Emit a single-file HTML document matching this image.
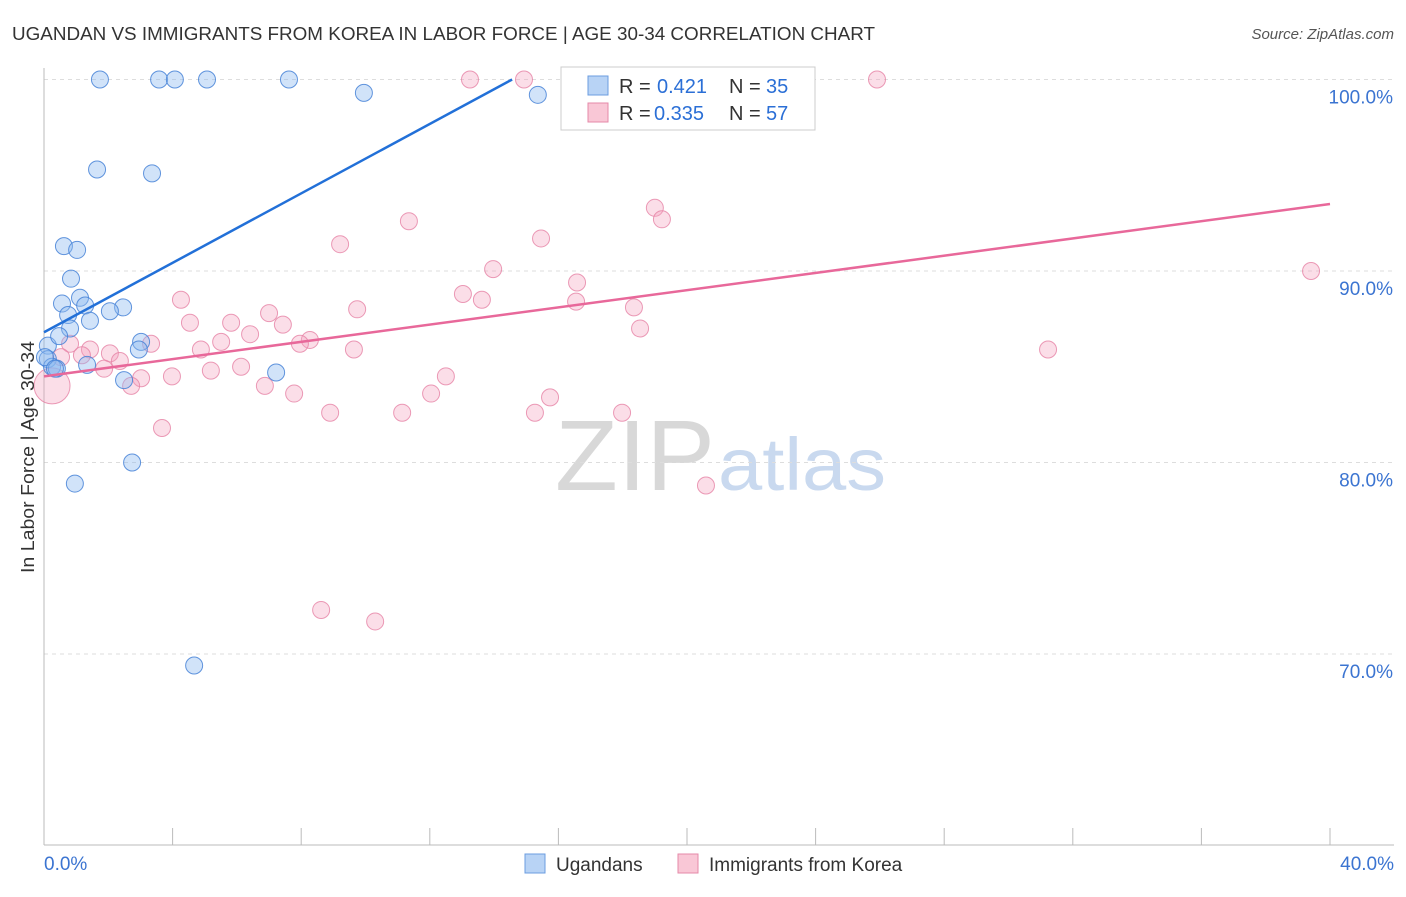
<!DOCTYPE html>
<html><head><meta charset="utf-8"><style>
body{margin:0;background:#fff;font-family:"Liberation Sans",sans-serif}
svg text{font-family:"Liberation Sans",sans-serif}
</style></head><body>
<svg id="c" width="1406" height="892" viewBox="0 0 1406 892">
<text x="12" y="40" font-size="18" fill="#333" textLength="863" lengthAdjust="spacingAndGlyphs">UGANDAN VS IMMIGRANTS FROM KOREA IN LABOR FORCE | AGE 30-34 CORRELATION CHART</text>
<text x="1394" y="39" font-size="15" fill="#555" text-anchor="end" font-style="italic">Source: ZipAtlas.com</text>
<text x="555" y="490" font-size="100" fill="#d8d8d8" font-family="Liberation Serif" textLength="160" lengthAdjust="spacingAndGlyphs">ZIP</text>
<text x="718" y="490" font-size="74" fill="#c9d9ef" textLength="168" lengthAdjust="spacingAndGlyphs">atlas</text>
<g id="grid"></g><g id="axes"></g><g id="pts"></g><g id="lines"></g>
<text transform="translate(34,457) rotate(-90)" font-size="18" fill="#333" text-anchor="middle" textLength="232" lengthAdjust="spacingAndGlyphs">In Labor Force | Age 30-34</text>
<g>
<rect x="561" y="67" width="254" height="63" fill="#fff" stroke="#ccc"/>
<rect x="588" y="76" width="20" height="19" fill="#b8d3f5" stroke="#6b9de0"/>
<rect x="588" y="103" width="20" height="19" fill="#f9c7d6" stroke="#e58aa8"/>
<text x="619" y="93" font-size="20" fill="#333">R =</text><text x="657" y="93" font-size="20" fill="#2b6fd6">0.421</text>
<text x="729" y="93" font-size="20" fill="#333">N =</text><text x="766" y="93" font-size="20" fill="#2b6fd6">35</text>
<text x="619" y="120" font-size="20" fill="#333">R =</text><text x="654" y="120" font-size="20" fill="#2b6fd6">0.335</text>
<text x="729" y="120" font-size="20" fill="#333">N =</text><text x="766" y="120" font-size="20" fill="#2b6fd6">57</text>
</g>
<g>
<rect x="525" y="854" width="20" height="19" fill="#b8d3f5" stroke="#6b9de0"/>
<text x="556" y="871" font-size="19" fill="#333">Ugandans</text>
<rect x="678" y="854" width="20" height="19" fill="#f9c7d6" stroke="#e58aa8"/>
<text x="709" y="871" font-size="19" fill="#333">Immigrants from Korea</text>
</g>
</svg>
<script>
const blueX=[1.74,3.58,4.07,5.07,7.62,9.95,15.36,1.65,3.36,0.62,1.03,0.84,0.56,1.12,1.28,2.46,2.05,0.75,1.43,0.81,0.12,3.02,2.95,0.47,1.34,0.12,0.25,0.40,2.49,7.22,2.74,0.96,4.67,0.03,0.34];
const blueY=[100,100,100,100,100,99.3,99.2,95.3,95.1,91.3,91.1,89.6,88.3,88.6,88.2,88.1,87.9,87.7,87.4,87.0,86.1,86.3,85.9,86.6,85.1,85.4,85.0,84.9,84.3,84.7,80.0,78.9,69.4,85.5,84.9];
const pinkX=[13.25,14.93,19.81,25.91,11.35,19.0,19.22,15.46,9.21,13.97,39.41,16.58,13.03,13.62,4.26,16.55,18.35,9.74,7.0,4.54,5.82,7.43,18.54,6.41,8.27,7.96,5.51,3.33,4.88,9.64,31.23,0.81,1.43,2.05,2.36,1.18,0.53,6.13,5.19,1.87,12.5,3.02,3.98,2.71,6.87,7.78,12.04,15.74,8.9,11.14,15.27,17.98,3.67,20.59,8.62,10.3,0.25];
const pinkY=[100,100,100,100,92.6,93.3,92.7,91.7,91.4,90.1,90.0,89.4,88.8,88.5,88.5,88.4,88.1,88.0,87.8,87.3,87.3,87.2,87.0,86.7,86.4,86.2,86.3,86.2,85.9,85.9,85.9,86.2,85.9,85.7,85.3,85.6,85.5,85.0,84.8,84.9,84.5,84.4,84.5,84.0,84.0,83.6,83.6,83.4,82.6,82.6,82.6,82.6,81.8,78.8,72.3,71.7,84.0];
const blueTrend=[[0,86.8],[14.56,100]];
const pinkTrend=[[0,84.5],[40,93.5]];
const yTicks=[100,90,80,70];
const xTicks=[0,4,8,12,16,20,24,28,32,36,40];
const sx=v=>44+v*32.15, sy=v=>79.5+(100-v)*19.15;
const NS="http://www.w3.org/2000/svg";
function mk(p,t,a){const e=document.createElementNS(NS,t);for(const k in a)e.setAttribute(k,a[k]);p.appendChild(e);return e;}
const grid=document.getElementById('grid'),axes=document.getElementById('axes'),pts=document.getElementById('pts'),lines=document.getElementById('lines');
yTicks.forEach(v=>{
 const l=mk(grid,'line',{x1:44,x2:1394,y1:sy(v),y2:sy(v),stroke:'#ddd','stroke-dasharray':'4,4'});
 
 
 const t=mk(grid,'text',{x:1393,y:sy(v)+24,'font-size':19,fill:'#3b74d1','text-anchor':'end'});t.textContent=v.toFixed(1)+'%';
 
 
});
const ax=mk(axes,'line',{x1:44,x2:44,y1:68,y2:845,stroke:'#bbb'});


const bx=mk(axes,'line',{x1:44,x2:1394,y1:845,y2:845,stroke:'#bbb'});


xTicks.forEach(v=>{const t=mk(axes,'line',{x1:sx(v),x2:sx(v),y1:828,y2:845,stroke:'#bbb'});
 
 });
[[0,'0.0%','start',44],[40,'40.0%','end',1394]].forEach(([v,s,a,x])=>{const t=mk(axes,'text',{x:x,y:870,'font-size':19,fill:'#3b74d1','text-anchor':a});t.textContent=s;
 
 });
pinkX.forEach((x,i)=>{const big=i===pinkX.length-1;const c=mk(pts,'circle',{cx:sx(x),cy:sy(pinkY[i]),r:big?18:8.5,fill:'rgba(244,160,188,0.35)',stroke:'rgba(230,130,165,0.8)','stroke-width':1});
 
 });
blueX.forEach((x,i)=>{const c=mk(pts,'circle',{cx:sx(x),cy:sy(blueY[i]),r:8.5,fill:'rgba(140,185,240,0.4)',stroke:'rgba(70,130,215,0.85)','stroke-width':1});
 
 });
const bl=mk(lines,'line',{x1:sx(blueTrend[0][0]),y1:sy(blueTrend[0][1]),x2:sx(blueTrend[1][0]),y2:sy(blueTrend[1][1]),stroke:'#2270d8','stroke-width':2.5});


const pl=mk(lines,'line',{x1:sx(pinkTrend[0][0]),y1:sy(pinkTrend[0][1]),x2:sx(pinkTrend[1][0]),y2:sy(pinkTrend[1][1]),stroke:'#e8689a','stroke-width':2.5});


</script>
</body></html>
